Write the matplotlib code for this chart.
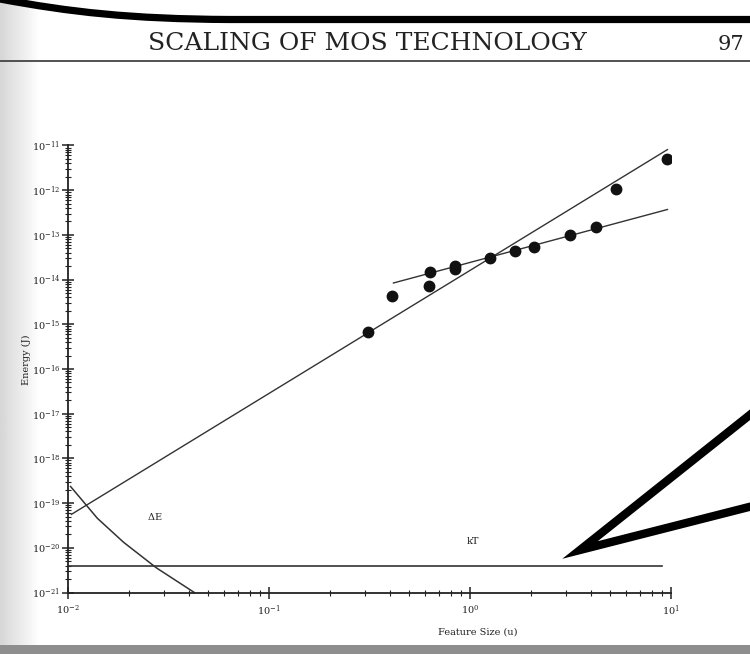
import matplotlib
matplotlib.use("Agg")
import matplotlib.pyplot as plt
import numpy as np
from matplotlib.path import Path
from matplotlib.patches import PathPatch, Polygon
from matplotlib.ticker import LogLocator, NullFormatter

plt.rcParams['font.family'] = 'DejaVu Serif'
plt.rcParams['mathtext.fontset'] = 'dejavuserif'

# measured device energies (feature size in microns, energy in J)
size_um = [0.31, 0.41, 0.625, 0.63, 0.84, 0.84, 1.26, 1.67, 2.09, 3.14, 4.23, 5.31, 9.6]
energy_j = [6.6e-16, 4.3e-15, 7.1e-15, 1.46e-14, 2.0e-14, 1.75e-14, 3.1e-14,
            4.4e-14, 5.4e-14, 9.8e-14, 1.48e-13, 1.06e-12, 5.1e-12]

# trend lines
steep_x = [0.0104, 9.6]
steep_y = [5.6e-20, 8.1e-12]
shallow_x = [0.416, 9.6]
shallow_y = [8.4e-15, 3.7e-13]

# thermal energy kT and the Delta E curve
kt_x = [0.0101, 9.0]
kt_y = [4.0e-21, 4.0e-21]
de_x = [0.0103, 0.0140, 0.0189, 0.0275, 0.0425]
de_y = [2.35e-19, 4.57e-20, 1.33e-20, 3.57e-21, 1.0e-21]

W, H = 750, 654
fig = plt.figure(figsize=(7.5, 6.54), dpi=100)
fig.patch.set_facecolor('white')

# page background: scan shadow on the left, grey strip at the bottom
bg = fig.add_axes([0, 0, 1, 1], zorder=-1)
bg.set_xlim(0, W)
bg.set_ylim(H, 0)
bg.axis('off')
grad = np.linspace(0.84, 1.0, 64)[None, :]
bg.imshow(grad, cmap='gray', vmin=0, vmax=1, extent=[0, 40, H, 0], aspect='auto')
bg.fill_between([0, W], 645, H, color='#8e8e8e', lw=0)

# the chart itself
ax = fig.add_axes([68 / W, (H - 592.5) / H, 603 / W, 447 / H])
ax.set_facecolor('none')
ax.set_xscale('log')
ax.set_yscale('log')
ax.set_xlim(1e-2, 1e1)
ax.set_ylim(1e-21, 1e-11)

lc = '#333333'
ax.plot(steep_x, steep_y, color=lc, lw=1.0)
ax.plot(shallow_x, shallow_y, color=lc, lw=1.0)
ax.plot(kt_x, kt_y, color=lc, lw=1.2)
ax.plot(de_x, de_y, color=lc, lw=1.1)
ax.plot(size_um, energy_j, 'o', color='#111111', ms=7.5, ls='none')

ax.text(0.027, 5e-20, r'$\Delta$E', fontsize=7, color='#222222', ha='center', va='center')
ax.text(1.03, 1.4e-20, 'kT', fontsize=7, color='#222222', ha='center', va='center')

for s in ['top', 'right']:
    ax.spines[s].set_visible(False)
for s in ['left', 'bottom']:
    ax.spines[s].set_linewidth(1.3)
    ax.spines[s].set_color('#222222')

ax.xaxis.set_major_locator(LogLocator(base=10, numticks=20))
ax.yaxis.set_major_locator(LogLocator(base=10, numticks=20))
ax.xaxis.set_minor_locator(LogLocator(base=10, subs=np.arange(2, 10), numticks=40))
ax.yaxis.set_minor_locator(LogLocator(base=10, subs=np.arange(2, 10), numticks=40))
ax.xaxis.set_minor_formatter(NullFormatter())
ax.yaxis.set_minor_formatter(NullFormatter())
ax.tick_params(which='major', direction='inout', length=9, width=1.1, colors='#222222',
               labelsize=7, pad=1)
ax.tick_params(axis='x', which='major', pad=3)
ax.tick_params(which='minor', direction='inout', length=5, width=0.8, colors='#222222')

ax.set_ylabel('Energy (J)', fontsize=7, color='#222222')
ax.yaxis.set_label_coords(-0.061, 0.52)
ax.text(0.68, -0.088, 'Feature Size (u)', fontsize=7, color='#222222',
        ha='center', va='center', transform=ax.transAxes)

# page header
fig.text(367 / W, (H - 50) / H, 'SCALING OF MOS TECHNOLOGY', fontsize=18,
         color='#222222', ha='center', va='baseline')
fig.text(731 / W, (H - 50) / H, '97', fontsize=15, color='#222222',
         ha='center', va='baseline')

# overlay: header rule, black swoosh and the callout pointer
ov = fig.add_axes([0, 0, 1, 1], zorder=10)
ov.set_xlim(0, W)
ov.set_ylim(H, 0)
ov.axis('off')
ov.plot([0, W], [61, 61], color='#444444', lw=1.3)

swoosh = Path([(0, -1), (70, 12), (130, 19), (230, 19.5), (760, 19.5)],
              [Path.MOVETO, Path.CURVE4, Path.CURVE4, Path.CURVE4, Path.LINETO])
ov.add_patch(PathPatch(swoosh, facecolor='none', edgecolor='black', lw=5.2,
                       capstyle='butt'))

pointer = Polygon([(580, 550), (800, 375), (800, 494)], closed=True,
                  facecolor='white', edgecolor='black', lw=6, joinstyle='miter')
ov.add_patch(pointer)

fig.savefig('out.png', dpi=100)
